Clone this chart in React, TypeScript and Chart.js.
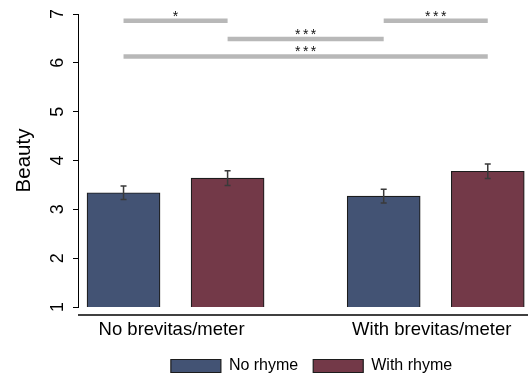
import React, { useEffect, useRef } from "react";
import { Chart, registerables } from "chart.js";

Chart.register(...registerables);

const FAMILY = "'Liberation Sans', Arial, Helvetica, sans-serif";

const groups = ["No brevitas/meter", "With brevitas/meter"];
const seriesNames = ["No rhyme", "With rhyme"];
const noRhyme = [3.34, 3.27];
const withRhyme = [3.64, 3.78];
const noRhymeErr = [0.14, 0.14];
const withRhymeErr = [0.15, 0.15];
const yTicks = [1, 2, 3, 4, 5, 6, 7];

// significance brackets; bars indexed as group * 2 + series
const sigFrom = [0, 2, 1, 0];
const sigTo = [1, 3, 2, 3];
const sigLevel = [6.86, 6.86, 6.49, 6.13];
const sigLabel = ["*", "***", "***", "***"];

const seriesOffset = [-0.2, 0.2];
const seriesColors = ["#435374", "#733948"];

const barX = (b: number) => Math.floor(b / 2) + seriesOffset[b % 2];

const decor = {
  id: "decor",
  afterDatasetsDraw(chart: any) {
    const { ctx, chartArea, scales } = chart;
    const y = scales.y;
    const x = scales.x;
    ctx.save();
    // error bars
    chart.data.datasets.forEach((ds: any, di: number) => {
      if (ds.type !== "bar") return;
      const meta = chart.getDatasetMeta(di);
      meta.data.forEach((el: any, i: number) => {
        const v = ds.data[i].y;
        const e = ds.errors[i];
        const px = el.x;
        const yTop = y.getPixelForValue(v + e);
        const yBot = y.getPixelForValue(v - e);
        ctx.strokeStyle = "#3a3a3a";
        ctx.lineWidth = 1.5;
        ctx.beginPath();
        ctx.moveTo(px, yTop);
        ctx.lineTo(px, yBot);
        ctx.moveTo(px - 3, yTop);
        ctx.lineTo(px + 3, yTop);
        ctx.moveTo(px - 3, yBot);
        ctx.lineTo(px + 3, yBot);
        ctx.stroke();
      });
    });
    // significance stars
    chart.data.datasets.forEach((ds: any) => {
      if (!ds.sig) return;
      const mx = (x.getPixelForValue(ds.data[0].x) + x.getPixelForValue(ds.data[1].x)) / 2;
      const my = y.getPixelForValue(ds.data[0].y);
      ctx.fillStyle = "#111";
      ctx.font = `14px ${FAMILY}`;
      ctx.textAlign = "center";
      ctx.textBaseline = "alphabetic";
      (ctx as any).letterSpacing = "2.5px";
      ctx.fillText(ds.sig, mx + 1.25, my);
    });
    (ctx as any).letterSpacing = "0px";
    // detached x axis line
    ctx.strokeStyle = "#404040";
    ctx.lineWidth = 2;
    ctx.beginPath();
    ctx.moveTo(chartArea.left, chartArea.bottom + 8);
    ctx.lineTo(chartArea.right, chartArea.bottom + 8);
    ctx.stroke();
    ctx.restore();
  },
};

export default function App() {
  const ref = useRef<HTMLCanvasElement | null>(null);
  useEffect(() => {
    if (!ref.current) return;
    const values = [noRhyme, withRhyme];
    const errs = [noRhymeErr, withRhymeErr];
    const barSets: any[] = values.map((vals, s) => ({
      type: "bar",
      label: seriesNames[s],
      data: vals.map((v, g) => ({ x: g + seriesOffset[s], y: v })),
      backgroundColor: seriesColors[s],
      borderColor: "#1c1c1c",
      borderWidth: 1.2,
      borderSkipped: false,
      grouped: false,
      barThickness: 73,
      errors: errs[s],
      order: 2,
    }));
    const sigSets: any[] = sigFrom.map((f, i) => ({
      type: "line",
      label: "",
      data: [
        { x: barX(f), y: sigLevel[i] },
        { x: barX(sigTo[i]), y: sigLevel[i] },
      ],
      borderColor: "#b8b8b8",
      borderWidth: 4.5,
      pointRadius: 0,
      borderCapStyle: "butt",
      sig: sigLabel[i],
      order: 1,
    }));
    const chart = new Chart(ref.current, {
      type: "bar",
      data: { datasets: [...barSets, ...sigSets] },
      options: {
        animation: false,
        responsive: false,
        devicePixelRatio: 1,
        layout: { padding: { top: 14, left: 0, right: 0, bottom: 0 } },
        plugins: {
          legend: {
            position: "bottom",
            fullSize: false,
            labels: {
              filter: (item: any) => item.datasetIndex < 2,
              boxWidth: 50,
              boxHeight: 13,
              padding: 15,
              color: "#000",
              font: { size: 16, family: FAMILY },
            },
          },
          tooltip: { enabled: false },
        },
        scales: {
          x: {
            type: "linear",
            offset: false,
            min: -0.375,
            max: 1.42,
            afterBuildTicks: (s: any) => {
              s.ticks = groups.map((_, i) => ({ value: i }));
            },
            afterFit: (s: any) => {
              s.height = 36;
              s.paddingLeft = 0;
              s.paddingRight = 0;
            },
            ticks: {
              callback: (_v: any, i: number) => groups[i],
              font: { size: 18.5, family: FAMILY },
              color: "#000",
              padding: 12,
              labelOffset: -4,
              maxRotation: 0,
              autoSkip: false,
            },
            grid: { display: false, drawTicks: false },
            border: { display: false },
          },
          y: {
            min: 1,
            max: 7,
            afterBuildTicks: (s: any) => {
              s.ticks = yTicks.map((v) => ({ value: v }));
            },
            afterFit: (s: any) => {
              s.width = 78;
              s.paddingTop = 0;
              s.paddingBottom = 0;
            },
            ticks: {
              font: { size: 18, family: FAMILY },
              color: "#000",
              minRotation: 90,
              maxRotation: 90,
              crossAlign: "center",
              padding: 10,
            },
            grid: {
              display: true,
              drawOnChartArea: false,
              drawTicks: true,
              tickLength: 5,
              color: "#000",
              lineWidth: 1,
            },
            border: { display: true, color: "#000", width: 1 },
            title: {
              display: true,
              text: "Beauty",
              font: { size: 20.5, family: FAMILY },
              color: "#000",
              padding: { top: 12, bottom: 0 },
            },
          },
        },
      } as any,
      plugins: [decor],
    } as any);
    return () => chart.destroy();
  }, []);
  return (
    <div
      style={{
        position: "absolute",
        left: 0,
        top: 0,
        width: 528,
        height: 376,
        overflow: "hidden",
        background: "#fff",
      }}
    >
      <canvas ref={ref} width={545} height={384} style={{ display: "block" }} />
    </div>
  );
}
